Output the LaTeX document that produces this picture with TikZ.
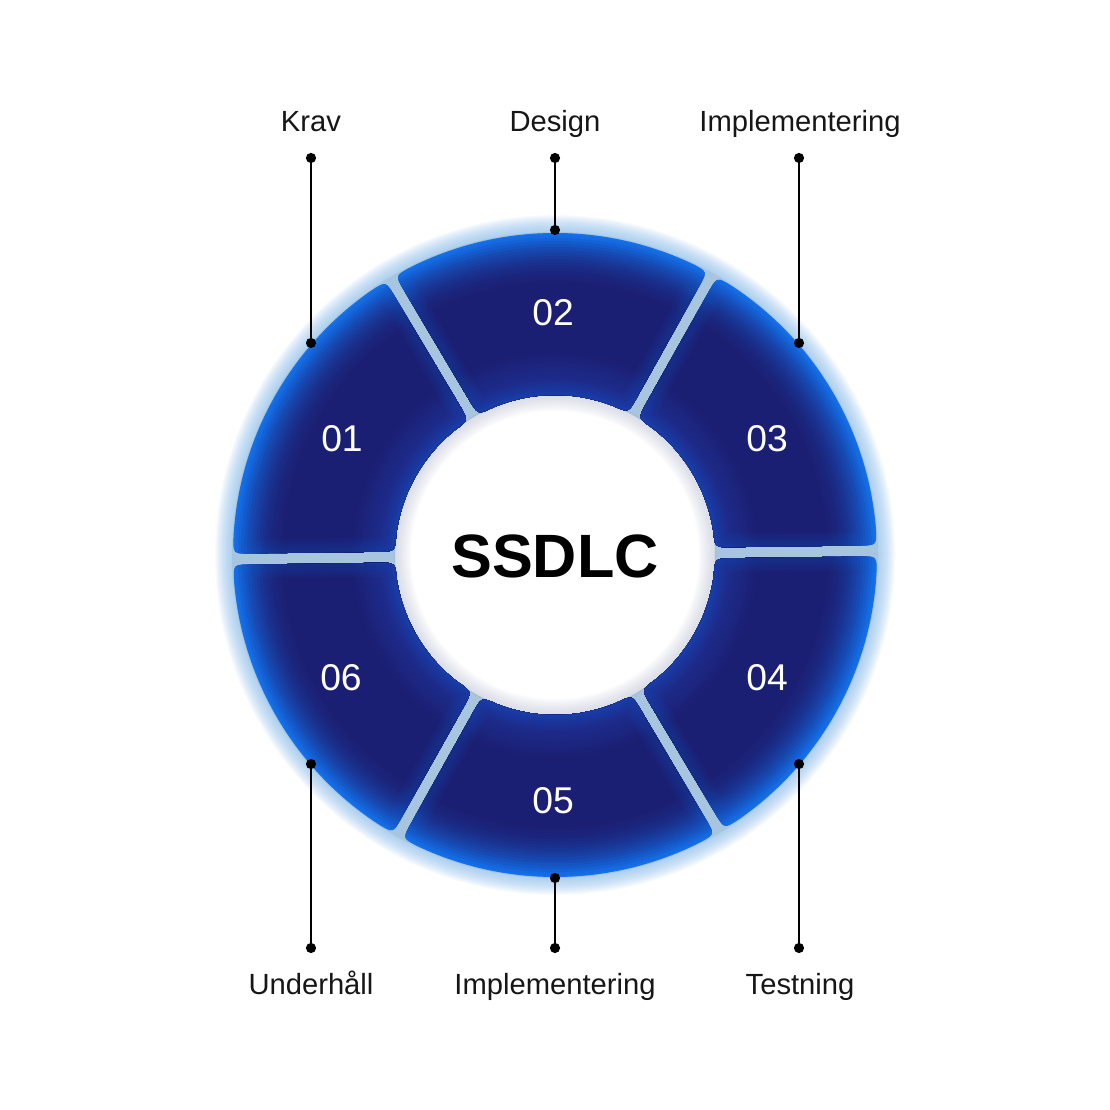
\documentclass[tikz,border=0pt]{standalone}
\usepackage{fontspec}
\setmainfont{Liberation Sans}
\usetikzlibrary{calc}
\definecolor{segdark}{HTML}{1B1F73}
\definecolor{segbright}{HTML}{1470EA}
\definecolor{seginner}{HTML}{1E36A0}
\definecolor{gapcol}{HTML}{A8C5E0}
\definecolor{glowcol}{HTML}{8DC0EE}
\definecolor{holeshade}{HTML}{B8BED2}
\definecolor{labelcol}{HTML}{161616}

\newcommand\segpath[6]{% #1 centre angle, #2 R, #3 r, #4 half gap, #5 corner, #6 options
 \pgfmathsetmacro\tA{#1-30}%
 \pgfmathsetmacro\tB{#1+30}%
 \pgfmathsetmacro\aO{asin(#4/#2)}%
 \pgfmathsetmacro\aI{asin(#4/#3)}%
 \pgfmathsetmacro\dO{#5/#2*180/pi}%
 \pgfmathsetmacro\dI{#5/#3*180/pi}%
 \pgfmathsetmacro\tO{100*sqrt((#2/100)^2-(#4/100)^2)-#5}%
 \pgfmathsetmacro\tI{100*sqrt((#3/100)^2-(#4/100)^2)+#5}%
 \pgfmathsetmacro\sO{\tA+\aO+\dO}%
 \pgfmathsetmacro\eO{\tB-\aO-\dO}%
 \pgfmathsetmacro\cBO{\tB-\aO}%
 \pgfmathsetmacro\cBI{\tB-\aI}%
 \pgfmathsetmacro\sI{\tB-\aI-\dI}%
 \pgfmathsetmacro\eI{\tA+\aI+\dI}%
 \pgfmathsetmacro\cAI{\tA+\aI}%
 \pgfmathsetmacro\cAO{\tA+\aO}%
 \pgfmathsetmacro\nB{\tB-90}%
 \pgfmathsetmacro\nA{\tA+90}%
 \path[#6] (\sO:#2) arc[start angle=\sO, end angle=\eO, radius=#2]
   .. controls (\cBO:#2) .. ($(\tB:\tO)+(\nB:#4)$)
   -- ($(\tB:\tI)+(\nB:#4)$)
   .. controls (\cBI:#3) .. (\sI:#3)
   arc[start angle=\sI, end angle=\eI, radius=#3]
   .. controls (\cAI:#3) .. ($(\tA:\tI)+(\nA:#4)$)
   -- ($(\tA:\tO)+(\nA:#4)$)
   .. controls (\cAO:#2) .. (\sO:#2) -- cycle;
}

\tikzset{
  dotnode/.style={circle, fill=black, inner sep=0pt, minimum size=2.9pt},
  conn/.style={draw=black, line width=0.6pt},
  lbl/.style={text=labelcol, font=\fontsize{8.3pt}{10pt}\selectfont, inner sep=0pt, anchor=base},
  numlbl/.style={text=white, font=\fontsize{10.6pt}{12pt}\selectfont, inner sep=0pt, text height=7.6pt, text depth=0pt},
  titlelbl/.style={text=black, font=\bfseries\fontsize{17.4pt}{20pt}\selectfont, inner sep=0pt, text height=12.45pt, text depth=0pt}
}

\begin{document}
\begin{tikzpicture}[x=0.01cm, y=0.01cm]
\useasboundingbox (-555,-555) rectangle (555,555);
\fill[white] (-555,-555) rectangle (555,555);

% outer glow
\foreach \k in {1,...,18} {
  \pgfmathsetmacro\gr{322+\k*1.0}
  \fill[glowcol, opacity=0.06, even odd rule] (0,0) circle (\gr) (0,0) circle (200);
}
% gaps colour
\fill[gapcol, even odd rule] (0,0) circle (323) (0,0) circle (160);
% inner hole shadow
\foreach \k in {1,...,12} {
  \pgfmathsetmacro\hr{161-\k*1.4}
  \fill[holeshade, opacity=0.05, even odd rule] (0,0) circle (161) (0,0) circle (\hr);
}

% segments
\foreach \c in {90.75,30.75,-29.25,-89.25,-149.25,150.75} {
  \begin{scope}
    \segpath{\c}{322}{160}{5.5}{17}{clip}
    \foreach \rr in {323,320,...,155} {
      \pgfmathsetmacro\u{max(0,(\rr-268)/54)}
      \pgfmathsetmacro\pb{min(100,100*\u*\u)}
      \pgfmathsetmacro\v{max(0,(205-\rr)/45)}
      \pgfmathsetmacro\pq{min(100,85*\v)}
      \colorlet{cur}{segbright!\pb!segdark}
      \colorlet{cur}{seginner!\pq!cur}
      \fill[cur] (0,0) circle (\rr);
    }
    \foreach \lw in {8,6.5,5,3.5,2} {
      \segpath{\c}{322}{160}{5.5}{17}{draw=segbright, line width=\lw pt, opacity=0.045}
    }
  \end{scope}
}

% numbers
\node[numlbl] (n01) at (-213,117) {01};
\node[numlbl] (n02) at (-2,243) {02};
\node[numlbl] (n03) at (212,117) {03};
\node[numlbl] (n04) at (212,-122) {04};
\node[numlbl] (n05) at (-2,-245) {05};
\node[numlbl] (n06) at (-214,-122) {06};

\node[titlelbl] (title) at (0,-0.5) {SSDLC};

% labels
\node[lbl] (lKrav) at (-244,423) {Krav};
\node[lbl] (lDesign) at (0,423) {Design};
\node[lbl] (lImpl) at (245,423) {Implementering};
\node[lbl] (lUnder) at (-244,-439) {Underhåll};
\node[lbl] (lImpl2) at (0,-439) {Implementering};
\node[lbl] (lTest) at (245,-439) {Testning};

% dots
\node[dotnode] (t1) at (-244,397) {};
\node[dotnode] (t2) at (0,397) {};
\node[dotnode] (t3) at (244,397) {};
\node[dotnode] (r1) at (-244,212) {};
\node[dotnode] (r2) at (0,325) {};
\node[dotnode] (r3) at (244,212) {};
\node[dotnode] (r4) at (-244,-209) {};
\node[dotnode] (r5) at (0,-323) {};
\node[dotnode] (r6) at (244,-209) {};
\node[dotnode] (b1) at (-244,-393) {};
\node[dotnode] (b2) at (0,-393) {};
\node[dotnode] (b3) at (244,-393) {};

% connectors
\draw[conn] (t1.center) -- (r1.center);
\draw[conn] (t2.center) -- (r2.center);
\draw[conn] (t3.center) -- (r3.center);
\draw[conn] (r4.center) -- (b1.center);
\draw[conn] (r5.center) -- (b2.center);
\draw[conn] (r6.center) -- (b3.center);
\end{tikzpicture}
\end{document}
